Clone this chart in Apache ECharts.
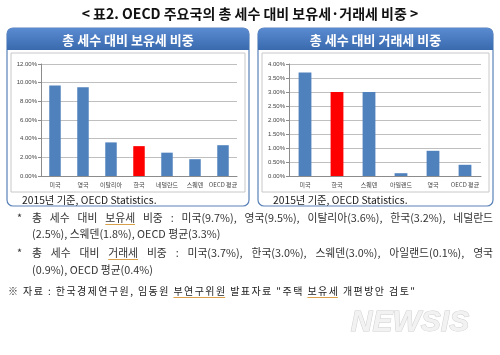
<!DOCTYPE html>
<html><head><meta charset="utf-8">
<script src="https://cdn.jsdelivr.net/npm/echarts@6/dist/echarts.min.js"></script>
<style>html,body{margin:0;padding:0;background:#fff}#c{width:500px;height:355px}</style>
</head><body><div id="c"></div>
<script>
// Data
const holdCats = ['미국','영국','이탈리아','한국','네덜란드','스웨덴','OECD 평균'];
const holdVals = [9.7, 9.5, 3.6, 3.2, 2.5, 1.8, 3.3];
const transCats = ['미국','한국','스웨덴','아일랜드','영국','OECD 평균'];
const transVals = [3.7, 3.0, 3.0, 0.1, 0.9, 0.4];
const highlightCat = '한국';
const holdTicks = {min: 0, max: 12, interval: 2};
const transTicks = {min: 0, max: 4, interval: 0.5};

const KR = '"Noto Sans CJK KR", "Noto Sans", sans-serif';
const BLUE = '#4F81BD', RED = '#FF0000', UL = '#d9a04a';

function barData(cats, vals){
  return vals.map((v,i)=>({value:v, itemStyle:{color: cats[i]===highlightCat?RED:BLUE}}));
}
function yAxis(idx, t){
  return {type:'value', gridIndex:idx, min:t.min, max:t.max, interval:t.interval, z:5,
    axisLine:{show:true, lineStyle:{color:'#8c8c8c', width:1}},
    axisTick:{show:true, length:3, lineStyle:{color:'#8c8c8c'}},
    axisLabel:{fontSize:6, color:'#444', fontFamily:'Arial, sans-serif', margin:4,
      formatter:v=>v.toFixed(2)+'%'},
    splitLine:{show:true, lineStyle:{color:'#bfbfbf', width:1}}};
}
function xAxis(idx, cats){
  return {type:'category', gridIndex:idx, data:cats, z:5,
    axisLine:{show:true, lineStyle:{color:'#8c8c8c'}},
    axisTick:{show:false},
    axisLabel:{fontSize:6, color:'#444', fontFamily:KR, margin:6, interval:0}};
}

const chart = echarts.init(document.getElementById('c'), null, {renderer:'canvas'});

const mctx = document.createElement('canvas').getContext('2d');
function measure(t, font){ mctx.font = font; return mctx.measureText(t).width; }
function uline(x, w, y){
  return {type:'line', z:2, shape:{x1:x, y1:y, x2:x+w, y2:y}, style:{stroke:UL, lineWidth:1}};
}
// word-justified line
function justify(text, x0, x1, y, font, color, under){
  const words = text.split(' ');
  const ws = words.map(w=>measure(w, font));
  const total = ws.reduce((a,b)=>a+b,0);
  const gap = (x1 - x0 - total) / (words.length - 1);
  const out = []; let x = x0;
  words.forEach((w,i)=>{
    out.push({type:'text', x:x, y:y, z:2, style:{text:w, fill:color, font:font, verticalAlign:'middle'}});
    if (under && under.indexOf(w) >= 0) out.push(uline(x, ws[i], y+6.5));
    x += ws[i] + gap;
  });
  return out;
}
// character-spaced line
function spaced(text, x0, x1, y, font, color, under){
  const chars = Array.from(text);
  const ws = chars.map(c=>measure(c, font));
  const total = ws.reduce((a,b)=>a+b,0);
  const sp = (x1 - x0 - total) / (chars.length - 1);
  const out = []; const pos = []; let x = x0;
  chars.forEach((c,i)=>{
    pos.push(x);
    if (c !== ' ') out.push({type:'text', x:x, y:y, z:2, style:{text:c, fill:color, font:font, verticalAlign:'middle'}});
    x += ws[i] + sp;
  });
  (under||[]).forEach(u=>{
    const s = text.indexOf(u);
    if (s >= 0) { const e = s + u.length - 1; out.push(uline(pos[s], pos[e] + ws[e] - pos[s], y+6.5)); }
  });
  return out;
}

function panel(x, w, title){
  return [
    {type:'rect', shape:{x:x, y:28, width:w, height:178, r:6},
      style:{fill:'none', stroke:'#5a82b8', lineWidth:1.2}, z:0},
    {type:'rect', shape:{x:x, y:28, width:w, height:22, r:[6,6,0,0]},
      style:{fill:new echarts.graphic.LinearGradient(0,0,0,1,[{offset:0,color:'#5a8ad0'},{offset:1,color:'#3a6aae'}])}, z:1},
    {type:'rect', shape:{x:x+4, y:53, width:w-8, height:139},
      style:{fill:'none', stroke:'#c8c8c8', lineWidth:1}, z:1},
    {type:'text', x:x+w/2, y:40, z:2, style:{text:title, fill:'#fff', font:'bold 13px '+KR, align:'center', verticalAlign:'middle'}},
    {type:'text', x:x+15, y:200, z:2, style:{text:'2015년 기준, OECD Statistics.', fill:'#222', font:'10.3px '+KR, align:'left', verticalAlign:'middle'}}
  ];
}

const textFont = '10.8px '+KR;
const TC = '#333';
const graphics = [].concat(
  [{type:'text', x:250, y:14, style:{text:'< 표2. OECD 주요국의 총 세수 대비 보유세·거래세 비중 >', fill:'#111', font:'bold 14px '+KR, align:'center', verticalAlign:'middle'}}],
  panel(7, 242, '총 세수 대비 보유세 비중'),
  panel(258, 235, '총 세수 대비 거래세 비중'),
  [{type:'text', x:17, y:218, style:{text:'*', fill:TC, font:textFont, verticalAlign:'middle'}}],
  justify('총 세수 대비 보유세 비중 : 미국(9.7%), 영국(9.5%), 이탈리아(3.6%), 한국(3.2%), 네덜란드', 32, 493, 218, textFont, TC, ['보유세']),
  [{type:'text', x:32, y:234, style:{text:'(2.5%), 스웨덴(1.8%), OECD 평균(3.3%)', fill:TC, font:textFont, verticalAlign:'middle'}},
   {type:'text', x:17, y:253, style:{text:'*', fill:TC, font:textFont, verticalAlign:'middle'}}],
  justify('총 세수 대비 거래세 비중 : 미국(3.7%), 한국(3.0%), 스웨덴(3.0%), 아일랜드(0.1%), 영국', 32, 493, 253, textFont, TC, ['거래세']),
  [{type:'text', x:32, y:270, style:{text:'(0.9%), OECD 평균(0.4%)', fill:TC, font:textFont, verticalAlign:'middle'}}],
  spaced('※ 자료 : 한국경제연구원, 임동원 부연구위원 발표자료 "주택 보유세 개편방안 검토"', 8, 415, 291, '10px '+KR, '#222', ['부연구위원','보유세']),
  [{type:'text', x:410, y:323, style:{text:'NEWSIS', fill:'#f2f2f2', font:'italic bold 30px Arial, "Liberation Sans", sans-serif', align:'center', verticalAlign:'middle', stroke:'#cfcfcf', lineWidth:1}}]
);

chart.setOption({
  animation:false,
  backgroundColor:'#fff',
  graphic:{elements:graphics},
  grid:[
    {left:41, top:64, width:196, height:112, containLabel:false},
    {left:289, top:64, width:192, height:112, containLabel:false}
  ],
  xAxis:[xAxis(0, holdCats), xAxis(1, transCats)],
  yAxis:[yAxis(0, holdTicks), yAxis(1, transTicks)],
  series:[
    {type:'bar', xAxisIndex:0, yAxisIndex:0, data:barData(holdCats, holdVals), barWidth:'41%', z:6},
    {type:'bar', xAxisIndex:1, yAxisIndex:1, data:barData(transCats, transVals), barWidth:'40%', z:6}
  ]
});
</script></body></html>
